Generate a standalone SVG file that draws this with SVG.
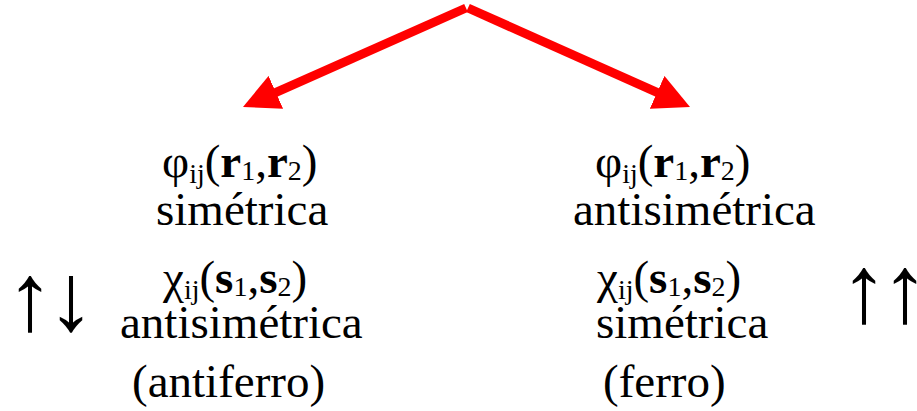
<svg xmlns="http://www.w3.org/2000/svg" width="917" height="411" viewBox="0 0 917 411">
<style>
.t{font-family:'Liberation Serif','Times New Roman',serif;font-size:47px;fill:#000}
.b{font-weight:bold}
.sub{font-size:28px}
.ar{font-family:'Liberation Serif','Times New Roman',serif;font-size:96px;fill:#000}
.conn{stroke:#ff0000;stroke-width:9;fill:none;stroke-linecap:butt}
</style>
<defs>
<marker id="head" markerUnits="userSpaceOnUse" viewBox="0 0 36 36" markerWidth="36" markerHeight="36" refX="6" refY="18" orient="auto">
<path d="M0,0 L36,18 L0,36 Z" fill="#ff0000"/>
</marker>
</defs>
<g id="connectors">
<line class="conn" x1="466" y1="8" x2="270.4" y2="94.8" marker-end="url(#head)"/>
<line class="conn" x1="468" y1="8" x2="662.6" y2="94.8" marker-end="url(#head)"/>
</g>
<g id="left">
<text class="t" x="162" y="177">φ<tspan class="sub" dy="6">ij</tspan><tspan dy="-6">(</tspan><tspan class="b">r</tspan><tspan class="sub" dy="3">1</tspan><tspan dy="-3">,</tspan><tspan class="b">r</tspan><tspan class="sub" dy="3">2</tspan><tspan dy="-3">)</tspan></text>
<text class="t" x="156" y="225">simétrica</text>
<text class="t" x="163" y="293">χ<tspan class="sub" dy="6">ij</tspan><tspan dy="-6">(</tspan><tspan class="b">s</tspan><tspan class="sub" dy="3">1</tspan><tspan dy="-3">,</tspan><tspan class="b">s</tspan><tspan class="sub" dy="3">2</tspan><tspan dy="-3">)</tspan></text>
<text class="t" x="120" y="338">antisimétrica</text>
<text class="t" x="132" y="397">(antiferro)</text>
</g>
<g id="right">
<text class="t" x="595" y="177">φ<tspan class="sub" dy="6">ij</tspan><tspan dy="-6">(</tspan><tspan class="b">r</tspan><tspan class="sub" dy="3">1</tspan><tspan dy="-3">,</tspan><tspan class="b">r</tspan><tspan class="sub" dy="3">2</tspan><tspan dy="-3">)</tspan></text>
<text class="t" x="573" y="225">antisimétrica</text>
<text class="t" x="597" y="293">χ<tspan class="sub" dy="6">ij</tspan><tspan dy="-6">(</tspan><tspan class="b">s</tspan><tspan class="sub" dy="3">1</tspan><tspan dy="-3">,</tspan><tspan class="b">s</tspan><tspan class="sub" dy="3">2</tspan><tspan dy="-3">)</tspan></text>
<text class="t" x="596" y="338">simétrica</text>
<text class="t" x="603" y="397">(ferro)</text>
</g>
<g id="spin-left"><text class="ar" x="6" y="330" letter-spacing="-7">↑↓</text></g>
<g id="spin-right"><text class="ar" x="840" y="322" letter-spacing="-7">↑↑</text></g>
</svg>
